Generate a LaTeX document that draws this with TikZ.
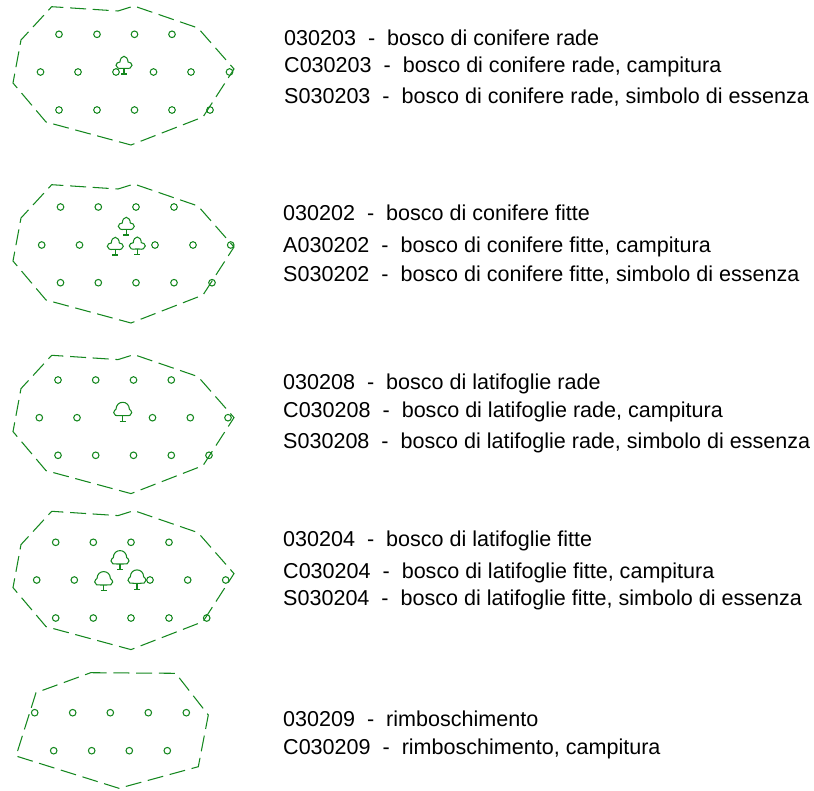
\documentclass[tikz,border=0pt]{standalone}
\usepackage{fontspec}
\setmainfont{Liberation Sans}
\definecolor{verde}{RGB}{20,135,30}
\tikzset{
  x=1pt,y=-1pt,
  confine/.style={draw=verde,line width=1.05pt,dash pattern=on 16pt off 6.7pt,dash phase=4.3pt},
  punto/.style={draw=verde,line width=1.05pt},
  albero/.style={draw=verde,line width=1.05pt},
  voce/.style={anchor=base west,inner sep=0pt,font=\fontsize{21.55pt}{24pt}\selectfont,text=black},
  pics/conifera/.style={code={
    \draw[albero] (-2,0) .. controls (-5,0.8) and (-8,-0.5) .. (-8,-3) .. controls (-8,-5) and (-6,-6.3) .. (-4,-6.3)
      .. controls (-4,-9.5) and (-2,-12) .. (0,-12) .. controls (2,-12) and (4,-9.5) .. (4,-6.3)
      .. controls (6,-6.3) and (8,-5) .. (8,-3) .. controls (8,-0.5) and (5,0.8) .. (2,0) -- cycle;
    \draw[albero] (0,0) -- (0,5.7) (-3,5.7) -- (3,5.7);
  }},
  pics/latifoglia/.style={code={
    \draw[albero] (-3,0) .. controls (-6,0.3) and (-9,0) .. (-9,-3) .. controls (-9,-5) and (-7.5,-5.5) .. (-6.7,-6.5)
      .. controls (-6.5,-11) and (-3.5,-13.4) .. (0,-13.4) .. controls (3.5,-13.4) and (6.5,-11) .. (6.7,-6.5)
      .. controls (7.5,-5.5) and (9,-5) .. (9,-3) .. controls (9,0) and (6,0.3) .. (3,0) -- cycle;
    \draw[albero] (0,0) -- (0,5.8) (-3,5.8) -- (3,5.8);
  }},
  pics/confine/.style={code={
    \draw[confine] (51.7,6.7) -- (118,11) -- (134,6) -- (198,28) -- (234,69) -- (203,117) -- (131,145) -- (46,122) -- (13,83) -- (21,40) -- cycle;
  }}
}
\newcommand{\punti}[2]{\foreach \px in {#2} \path[punto] (\px,#1) circle[radius=3.3];}
\begin{document}
\begin{tikzpicture}
\useasboundingbox (0,0) rectangle (814,790);
% blocco 1
\pic {confine};
\punti{34.3}{59,97,134.5,172}
\punti{72}{40.5,78,116,153.5,191,229.5}
\punti{110}{59,97,134.5,172,210}
\pic at (124,68.3) {conifera};
\node[voce] (a1) at (284,45) {030203~~-~~bosco di conifere rade};
\node[voce] (a2) at (284,72.5) {C030203~~-~~bosco di conifere rade, campitura};
\node[voce] (a3) at (284,103) {S030203~~-~~bosco di conifere rade, simbolo di essenza};
% blocco 2
\pic at (0,178) {confine};
\punti{207}{60.5,98.3,136,174}
\punti{245}{41.7,79.5,155,193,230.7}
\punti{282.7}{60.5,98.3,136,174,212}
\pic at (126.3,229.3) {conifera};
\pic at (115.3,249.3) {conifera};
\pic at (137.3,249) {conifera};
\node[voce] (b1) at (283,220.5) {030202~~-~~bosco di conifere fitte};
\node[voce] (b2) at (283,252.5) {A030202~~-~~bosco di conifere fitte, campitura};
\node[voce] (b3) at (283,281.5) {S030202~~-~~bosco di conifere fitte, simbolo di essenza};
% blocco 3
\pic at (0,348.6) {confine};
\punti{380}{58,95.7,133.5,171.3}
\punti{417.7}{39.3,77,152.5,190.3,228}
\punti{455.3}{58,95.7,133.5,171.3,209}
\pic at (122.7,415.7) {latifoglia};
\node[voce] (c1) at (283,389.5) {030208~~-~~bosco di latifoglie rade};
\node[voce] (c2) at (283,417.5) {C030208~~-~~bosco di latifoglie rade, campitura};
\node[voce] (c3) at (283,448.5) {S030208~~-~~bosco di latifoglie rade, simbolo di essenza};
% blocco 4
\pic at (0,504.6) {confine};
\punti{542.3}{55.7,93.3,131,169}
\punti{580}{36.7,74.3,150,187.7,225.7}
\punti{618}{55.7,93.3,131,169,206.7}
\pic at (120,564) {latifoglia};
\pic at (103.7,585) {latifoglia};
\pic at (137,583.3) {latifoglia};
\node[voce] (d1) at (283,546.5) {030204~~-~~bosco di latifoglie fitte};
\node[voce] (d2) at (283,578.5) {C030204~~-~~bosco di latifoglie fitte, campitura};
\node[voce] (d3) at (283,605.5) {S030204~~-~~bosco di latifoglie fitte, simbolo di essenza};
% blocco 5
\draw[confine,dash phase=0pt] (90.7,672.7) -- (175.7,673.3) -- (208.3,715) -- (198.3,766.7) -- (119,788.3) -- (16,756) -- (36,692.7) -- cycle;
\punti{712.7}{34.7,72.7,110.3,148.3,186.3}
\punti{750.7}{53.7,91.7,129.3,167.3}
\node[voce] (e1) at (283,726.5) {030209~~-~~rimboschimento};
\node[voce] (e2) at (283,754.5) {C030209~~-~~rimboschimento, campitura};
\end{tikzpicture}
\end{document}
